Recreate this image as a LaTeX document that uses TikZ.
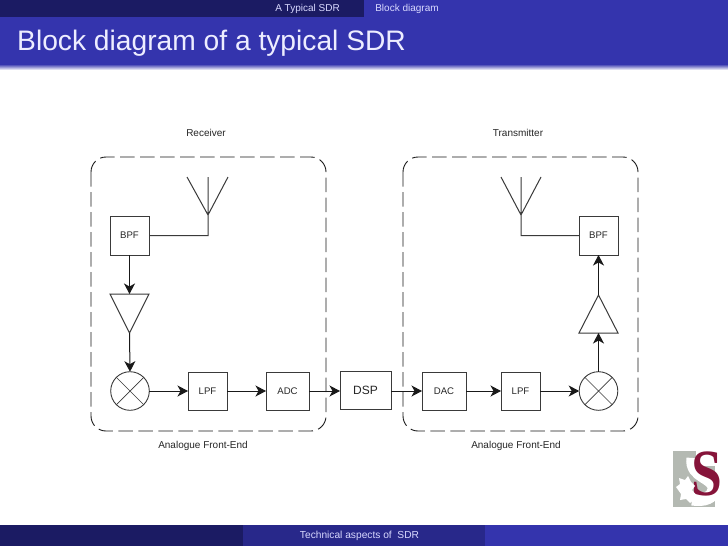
\documentclass[tikz,border=0pt]{standalone}
\usepackage{fontspec}
\setmainfont{Liberation Sans}
\newfontfamily\serifbold{Liberation Serif}
\usetikzlibrary{arrows.meta,shapes.geometric}
\definecolor{bardark}{HTML}{1B1B63}
\definecolor{barmid}{HTML}{28288A}
\definecolor{barblue}{HTML}{3434AD}
\definecolor{wire}{HTML}{3A3A3A}
\definecolor{logogrey}{HTML}{B4B9B2}
\definecolor{logored}{HTML}{86143A}
\tikzset{
  x=1pt,y=-1pt,
  block/.style={draw=wire,line width=1pt,fill=white,inner sep=0pt,outer sep=0pt,font=\fontsize{9.6}{11}\selectfont,text=black!85},
  mixer/.style={draw=wire,line width=.9pt,circle,inner sep=0pt,outer sep=0pt,minimum size=38.6pt},
  link/.style={draw=black!90,line width=1pt,-{Stealth[length=10.5pt,width=11pt,inset=3pt]}},
  wireline/.style={draw=wire,line width=1pt},
  ampl/.style={draw=wire,line width=1pt,line join=miter},
  frontend/.style={draw=black!90,line width=.9pt,rounded corners=15pt,dash pattern=on 14.5pt off 5.5pt},
  caption/.style={font=\fontsize{10}{12}\selectfont,text=black!85,inner sep=0pt},
  barlabel/.style={font=\fontsize{10}{12}\selectfont,inner sep=0pt},
}
\begin{document}
\begin{tikzpicture}
\useasboundingbox (0,0) rectangle (728,546);
\fill[white] (0,0) rectangle (728,546);
% header
\fill[bardark] (0,0) rectangle (364,17);
\fill[barblue] (364,0) rectangle (728,17);
\fill[barblue] (0,17) rectangle (728,65);
\shade[top color=barblue,bottom color=white] (0,64) rectangle (728,70);
\node[barlabel,text=white!85!blue] (secA) at (307.5,8.5) {A Typical SDR};
\node[barlabel,text=white!85!blue] (secB) at (407,8.5) {Block diagram};
\node[anchor=base west,inner sep=0pt,text=white!93!blue,font=\fontsize{28.2}{32}\selectfont] (title) at (17,50) {Block diagram of a typical SDR};
% footer
\fill[bardark] (0,525) rectangle (243,546);
\fill[barmid] (243,525) rectangle (485,546);
\fill[barblue] (485,525) rectangle (728,546);
\node[barlabel,text=white!85!blue,font=\fontsize{10.2}{12}\selectfont] (foot) at (359.5,535.5) {Technical aspects of\ \ SDR};
% logo
\fill[logogrey] (673,451) rectangle (715,507);
\fill[white] (696,451) rectangle (722,466);
\fill[white] (715,466) rectangle (722,507);
\draw[white,line width=13pt] (693,458) .. controls (690,478) and (716,476) .. (714,490) .. controls (713,497) and (705,501) .. (692,499);
\node[inner sep=0pt,text=logored,font=\serifbold\bfseries\fontsize{66}{66}\selectfont,xscale=.84] (logoS) at (707,474) {S};
\fill[white] (676,487) -- (680,484) -- (679,478) -- (685,480) -- (688,476) -- (691,482) -- (695,486) -- (692,490) -- (698,497) -- (701,502) -- (695,499) -- (690,503) -- (686,499) -- (680,500) -- (681,494) -- cycle;
% frames
\draw[frontend] (91,157) rectangle (326,431);
\draw[frontend] (403,157) rectangle (638,431);
% captions
\node[caption] (rx) at (206,133) {Receiver};
\node[caption] (tx) at (518,133) {Transmitter};
\node[caption] (afeA) at (203,446) {Analogue Front-End};
\node[caption] (afeB) at (516,446) {Analogue Front-End};
% receiver
\node[block,minimum width=39pt,minimum height=39pt] (bpfA) at (129.5,235.5) {BPF\hspace{3pt}};
\coordinate (antA) at (208,215);
\coordinate (antAc) at (208,177);
\coordinate (antAl) at (187,177);
\coordinate (antAr) at (228,177);
\coordinate (jctA) at (208,235.5);
\draw[wireline] (antAl) -- (antA) -- (antAr) (antAc) -- (jctA) -- (bpfA.east);
\coordinate (ampAtop) at (129.5,294);
\coordinate (ampAtip) at (129.5,333);
\draw[ampl] (110,294) -- (149,294) -- (ampAtip) -- cycle;
\node[mixer] (mixA) at (130,391) {};
\draw[wire,line width=.7pt] (mixA.45) -- (mixA.225) (mixA.135) -- (mixA.315);
\node[block,minimum width=39pt,minimum height=38pt] (lpfA) at (207.5,391) {LPF};
\node[block,minimum width=43pt,minimum height=38pt] (adc) at (287.5,391) {ADC};
\node[block,minimum width=51pt,minimum height=38pt,font=\fontsize{12}{14}\selectfont] (dsp) at (365.5,390.5) {DSP\hspace{4pt}};
% transmitter
\node[block,minimum width=44pt,minimum height=38pt] (dac) at (444,391) {DAC\hspace{2pt}};
\node[block,minimum width=39pt,minimum height=38pt] (lpfB) at (520.5,391) {LPF\hspace{2pt}};
\node[mixer] (mixB) at (598.5,391) {};
\draw[wire,line width=.7pt] (mixB.45) -- (mixB.225) (mixB.135) -- (mixB.315);
\coordinate (ampBbase) at (598.5,333);
\coordinate (ampBtip) at (598.5,295);
\draw[ampl] (579,333) -- (618,333) -- (ampBtip) -- cycle;
\node[block,minimum width=39pt,minimum height=39pt] (bpfB) at (598.5,235.5) {BPF\hspace{3pt}};
\coordinate (antB) at (521,215);
\coordinate (antBc) at (521,177);
\coordinate (antBl) at (501,177);
\coordinate (antBr) at (541,177);
\coordinate (jctB) at (521,235.5);
\draw[wireline] (antBl) -- (antB) -- (antBr) (antBc) -- (jctB) -- (bpfB.west);
% connectors
\draw[link] (bpfA.south) -- (ampAtop);
\draw[link] (ampAtip) -- (mixA.north);
\draw[link] (mixA.east) -- (lpfA.west);
\draw[link] (lpfA.east) -- (adc.west);
\draw[link] (adc.east) -- (dsp.west |- adc.east);
\draw[link] (dsp.east |- dac.west) -- (dac.west);
\draw[link] (dac.east) -- (lpfB.west);
\draw[link] (lpfB.east) -- (mixB.west);
\draw[link] (mixB.north) -- (ampBbase);
\draw[link] (ampBtip) -- (bpfB.south);
\end{tikzpicture}
\end{document}
